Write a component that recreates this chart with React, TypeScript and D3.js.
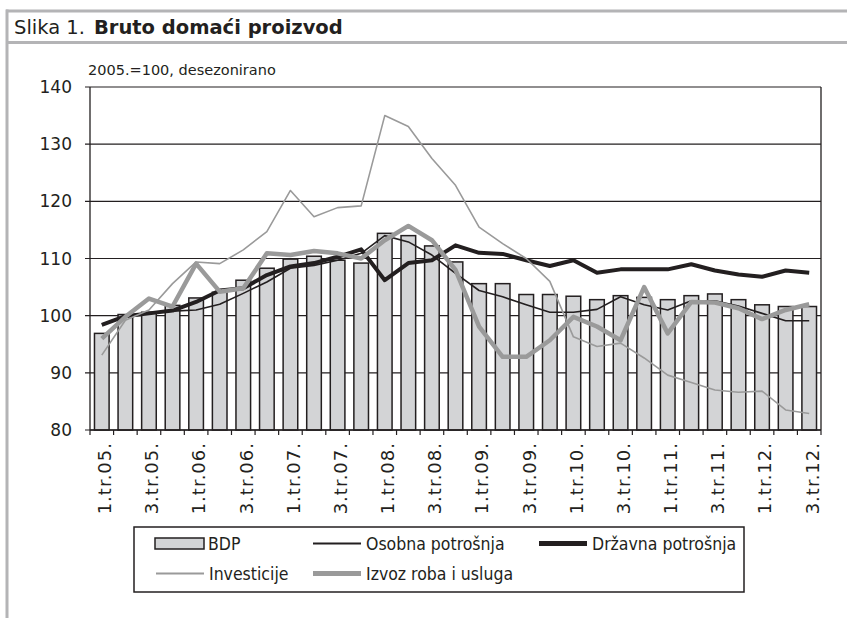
import React from 'react';
import * as d3 from 'd3';

const quarters = [
  '1.tr.05.', '2.tr.05.', '3.tr.05.', '4.tr.05.',
  '1.tr.06.', '2.tr.06.', '3.tr.06.', '4.tr.06.',
  '1.tr.07.', '2.tr.07.', '3.tr.07.', '4.tr.07.',
  '1.tr.08.', '2.tr.08.', '3.tr.08.', '4.tr.08.',
  '1.tr.09.', '2.tr.09.', '3.tr.09.', '4.tr.09.',
  '1.tr.10.', '2.tr.10.', '3.tr.10.', '4.tr.10.',
  '1.tr.11.', '2.tr.11.', '3.tr.11.', '4.tr.11.',
  '1.tr.12.', '2.tr.12.', '3.tr.12.',
];

const bdp = [96.9, 100.2, 100.6, 101.8, 103.1, 104.1, 106.2, 108.3, 109.9, 110.4, 109.7, 109.2, 114.4, 114.0, 112.2, 109.4, 105.6, 105.6, 103.7, 103.7, 103.4, 102.8, 103.5, 103.2, 102.8, 103.5, 103.8, 102.8, 101.9, 101.6, 101.6];
const osobna = [98.5, 100.0, 100.5, 100.8, 101.0, 102.0, 103.9, 105.9, 108.3, 108.8, 109.7, 110.9, 114.0, 112.9, 110.6, 107.4, 104.4, 103.3, 101.9, 100.6, 100.6, 101.1, 103.3, 101.9, 101.0, 102.6, 102.6, 101.7, 100.4, 99.1, 99.1];
const drzavna = [98.4, 99.9, 100.4, 100.9, 102.4, 104.4, 104.8, 107.1, 108.6, 109.2, 110.3, 111.6, 106.2, 109.2, 109.7, 112.3, 111.0, 110.8, 109.7, 108.7, 109.7, 107.5, 108.1, 108.1, 108.1, 109.0, 107.9, 107.2, 106.8, 107.9, 107.5];
const investicije = [93.1, 99.2, 101.0, 105.6, 109.4, 109.1, 111.5, 114.7, 121.9, 117.3, 118.9, 119.2, 135.0, 133.1, 127.5, 122.8, 115.5, 112.6, 110.0, 106.0, 96.3, 94.6, 95.2, 92.6, 89.6, 88.3, 87.0, 86.6, 86.8, 83.5, 82.9];
const izvoz = [96.0, 99.8, 103.0, 101.6, 109.1, 104.2, 104.8, 110.9, 110.6, 111.3, 110.9, 110.0, 113.2, 115.7, 113.2, 108.0, 98.1, 92.8, 92.8, 95.7, 99.8, 98.1, 95.7, 105.0, 96.9, 102.4, 102.3, 101.3, 99.4, 101.0, 102.0];

const yTicks = [80, 90, 100, 110, 120, 130, 140];

const FONT = '"DejaVu Sans", "Liberation Sans", sans-serif';
const LEGEND_FONT = '"DejaVu Sans Condensed", "Liberation Sans Narrow", "DejaVu Sans", sans-serif';
const INK = '#231f20';
const GRAY_LINE = '#9a9a9a';
const FRAME = '#b4b4b6';

const W = 847;
const H = 618;
const plot = { left: 90, right: 821, top: 87, bottom: 430 };

const App: React.FC = () => {
  const x = d3.scaleBand<string>()
    .domain(quarters)
    .range([plot.left, plot.right])
    .paddingInner(0.38)
    .paddingOuter(0.19);

  const y = d3.scaleLinear()
    .domain([80, 140])
    .range([plot.bottom, plot.top]);

  const cx = (i: number) => (x(quarters[i]) ?? 0) + x.bandwidth() / 2;

  const line = d3.line<number>()
    .x((_, i) => cx(i))
    .y(d => y(d));

  // tick marks sit on the band boundaries, like the spreadsheet original
  const boundaries = quarters.map((_, i) => cx(i) - x.step() / 2).concat([plot.right]);

  const series = [
    { name: 'Osobna potrošnja', data: osobna, color: INK, width: 1.6 },
    { name: 'Državna potrošnja', data: drzavna, color: INK, width: 4 },
    { name: 'Investicije', data: investicije, color: GRAY_LINE, width: 1.6 },
    { name: 'Izvoz roba i usluga', data: izvoz, color: GRAY_LINE, width: 4.5 },
  ];

  // legend layout
  const legendItems = [
    { kind: 'bar', label: 'BDP', lx: 155, row: 0 },
    { kind: 'line', label: series[0].name, color: series[0].color, w: 2, lx: 313, row: 0 },
    { kind: 'line', label: series[1].name, color: series[1].color, w: 5, lx: 539, row: 0 },
    { kind: 'line', label: series[2].name, color: series[2].color, w: 2, lx: 156, row: 1 },
    { kind: 'line', label: series[3].name, color: series[3].color, w: 5, lx: 313, row: 1 },
  ];

  return (
    <svg width={W} height={H} style={{ position: 'absolute', left: 0, top: 0, background: '#fff' }}>
      {/* frame */}
      <line x1={6} x2={W} y1={11} y2={11} stroke={FRAME} strokeWidth={3} />
      <line x1={6} x2={W} y1={42.5} y2={42.5} stroke={FRAME} strokeWidth={3} />
      <line x1={7} x2={7} y1={9.5} y2={H} stroke={FRAME} strokeWidth={3} />

      <text x={14} y={34} fontFamily={FONT} fontSize={19.5} fill={INK}>
        Slika 1.
        <tspan dx={9} fontWeight="bold">Bruto domaći proizvod</tspan>
      </text>
      <text x={88} y={75} fontFamily={FONT} fontSize={14.5} fill={INK}>2005.=100, desezonirano</text>

      {/* gridlines + y axis */}
      {yTicks.map(t => (
        <g key={t}>
          <line x1={plot.left - 5} x2={plot.right} y1={y(t)} y2={y(t)} stroke={INK} strokeWidth={1.2} />
          <text x={72} y={y(t)} dy="0.36em" textAnchor="end" fontFamily={FONT} fontSize={17} fill={INK}>{t}</text>
        </g>
      ))}

      {/* bars */}
      {bdp.map((v, i) => (
        <rect
          key={quarters[i]}
          x={x(quarters[i])}
          y={y(v)}
          width={x.bandwidth()}
          height={y(80) - y(v)}
          fill="#d3d4d6"
          stroke={INK}
          strokeWidth={1.5}
        />
      ))}

      {/* axes frame */}
      <line x1={plot.left} x2={plot.left} y1={plot.top} y2={plot.bottom} stroke={INK} strokeWidth={1.3} />
      <line x1={plot.right} x2={plot.right} y1={plot.top} y2={plot.bottom} stroke={INK} strokeWidth={1.3} />
      <line x1={plot.left} x2={plot.right} y1={plot.bottom} y2={plot.bottom} stroke={INK} strokeWidth={1.3} />
      {boundaries.map((b, i) => (
        <line key={i} x1={b} x2={b} y1={plot.bottom} y2={plot.bottom + 5} stroke={INK} strokeWidth={1.2} />
      ))}

      {/* lines */}
      {series.map(s => (
        <path
          key={s.name}
          d={line(s.data) ?? ''}
          fill="none"
          stroke={s.color}
          strokeWidth={s.width}
          strokeLinejoin="round"
        />
      ))}

      {/* x labels, every second quarter */}
      {quarters.map((q, i) => i % 2 === 0 ? (
        <text
          key={q}
          transform={`translate(${cx(i) + 3},${442}) rotate(-90)`}
          dy="0.35em"
          textAnchor="end"
          fontFamily={FONT}
          fontSize={18}
          letterSpacing={1}
          fill={INK}
        >{q}</text>
      ) : null)}

      {/* legend */}
      <rect x={134} y={527} width={610} height={65} fill="#fff" stroke={INK} strokeWidth={1.5} />
      {legendItems.map(it => {
        const ly = 543.5 + it.row * 30;
        return (
          <g key={it.label}>
            {it.kind === 'bar'
              ? <rect x={it.lx} y={ly - 5.5} width={49} height={11} fill="#d3d4d6" stroke={INK} strokeWidth={1.5} />
              : <line x1={it.lx} x2={it.lx + 48} y1={ly} y2={ly} stroke={it.color} strokeWidth={it.w} />}
            <text x={it.lx + 53} y={ly} dy="0.36em" fontFamily={LEGEND_FONT} fontSize={17.5} fill={INK}>{it.label}</text>
          </g>
        );
      })}
    </svg>
  );
};

export default App;
